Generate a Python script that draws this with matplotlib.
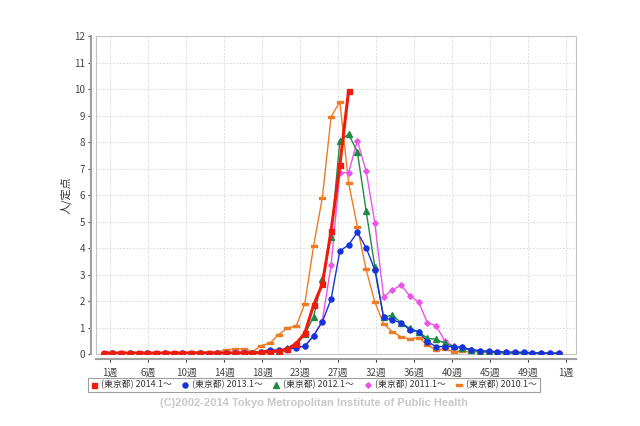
import matplotlib
matplotlib.use("Agg")
import matplotlib.pyplot as plt
from matplotlib.lines import Line2D
from matplotlib.patches import Rectangle

plt.rcParams['font.family'] = ['Noto Sans CJK JP', 'DejaVu Sans']

# weekly values (人/定点), index 0 = first week of each season
v2014 = [0.05, 0.04, 0.05, 0.04, 0.05, 0.04, 0.05, 0.04, 0.05, 0.04, 0.05, 0.04,
         0.05, 0.04, 0.05, 0.05, 0.06, 0.05,
         0.07, 0.1, 0.12, 0.2, 0.4, 0.8, 1.86, 2.65, 4.66, 7.13, 9.93]
v2013 = [0.03, 0.04, 0.03, 0.04, 0.03, 0.04, 0.03, 0.04, 0.03, 0.04, 0.03, 0.04,
         0.03, 0.04, 0.05, 0.05, 0.06, 0.06,
         0.1, 0.18, 0.15, 0.2, 0.25, 0.31, 0.7, 1.23, 2.08,
         3.9, 4.12, 4.6, 4.02, 3.18, 1.39, 1.29, 1.19, 0.92, 0.85, 0.48, 0.29, 0.29,
         0.29, 0.26, 0.18, 0.14, 0.12, 0.1, 0.09, 0.08, 0.07, 0.06, 0.05, 0.05, 0.04]
v2012 = [0.03, 0.03, 0.03, 0.03, 0.03, 0.03, 0.03, 0.03, 0.03, 0.03, 0.03, 0.03,
         0.03, 0.03, 0.04, 0.04, 0.05, 0.05, 0.06, 0.1,
         0.12, 0.25, 0.38, 0.75, 1.42, 2.83, 4.43,
         8.05, 8.3, 7.64, 5.41, 3.3, 1.39, 1.48, 1.19, 0.98, 0.85, 0.6, 0.57, 0.41,
         0.3, 0.22, 0.15, 0.1, 0.08, 0.06, 0.05, 0.04, 0.04, 0.03, 0.03, 0.03, 0.03]
v2011 = [0.04, 0.06, 0.05, 0.04, 0.05, 0.04, 0.05, 0.06, 0.04, 0.05, 0.04, 0.05,
         0.04, 0.05, 0.06, 0.07, 0.08, 0.06,
         0.08, 0.1, 0.12, 0.15, 0.27, 0.31, 0.7, 1.27, 3.37,
         6.85, 6.85, 8.05, 6.92, 4.96, 2.17, 2.42, 2.61, 2.2, 1.98, 1.19, 1.08, 0.51,
         0.29, 0.26, 0.18, 0.12, 0.1, 0.08, 0.07, 0.06, 0.06, 0.05, 0.05, 0.04, 0.04]
v2010 = [0.06, 0.05, 0.07, 0.05, 0.06, 0.05, 0.06, 0.07, 0.06, 0.05, 0.07, 0.08, 0.07,
         0.1, 0.16, 0.2, 0.2, 0.1,
         0.33, 0.42, 0.74, 1.0, 1.06, 1.91, 4.09, 5.91, 8.96, 9.52,
         6.47, 4.81, 3.2, 1.97, 1.15, 0.85, 0.66, 0.58, 0.63, 0.35, 0.16, 0.2,
         0.1, 0.12, 0.08, 0.1, 0.08, 0.07, 0.06, 0.08, 0.07, 0.06, 0.05, 0.05, 0.04]

labels = ['(東京都) 2014.1〜', '(東京都) 2013.1〜', '(東京都) 2012.1〜',
          '(東京都) 2011.1〜', '(東京都) 2010.1〜']
tick_labels = ['1週', '6週', '10週', '14週', '18週', '23週', '27週', '32週',
               '36週', '40週', '45週', '49週', '1週']

c_red = '#ee1c0e'
c_blue = '#1534dc'
c_green = '#1f8a46'
c_pink = '#ea55e6'
c_orange = '#ee7b25'
dash = [(-1, -0.42), (1, -0.42), (1, 0.42), (-1, 0.42), (-1, -0.42)]

fig = plt.figure(figsize=(6.4, 4.26), dpi=100)
ax = fig.add_axes([0.15, 0.1683, 0.75, 0.7472])

ax.plot(range(len(v2010)), v2010, color=c_orange, lw=1, marker=dash, ms=4.5, mec=c_orange)
ax.plot(range(len(v2011)), v2011, color=c_pink, lw=1, marker='D', ms=2.8)
ax.plot(range(len(v2012)), v2012, color=c_green, lw=1, marker='^', ms=3.8)
ax.plot(range(len(v2013)), v2013, color=c_blue, lw=1, marker='o', ms=3.6)
ax.plot(range(len(v2014)), v2014, color=c_red, lw=2.2, marker='s', ms=3.6)

ax.set_xlim(-0.88, 54.0)
ax.set_ylim(0, 12)
ax.set_yticks(range(0, 13))
ticks = [0.72 + k * 365 / 12 / 7 for k in range(13)]
ax.set_xticks(ticks)
ax.set_xticklabels(tick_labels)
ax.tick_params(labelsize=7, colors='#444444', length=2.5, width=0.8)
ax.tick_params(axis='y', pad=2)
ax.grid(True, color='#d4d4d4', lw=0.6, ls=(0, (2, 2)))
ax.set_axisbelow(True)

for s in ['top', 'right']:
    ax.spines[s].set_visible(False)
for s in ['left', 'bottom']:
    ax.spines[s].set_position(('outward', 3.5))
    ax.spines[s].set_color('#a0a0a0')
    ax.spines[s].set_linewidth(1.5)
ax.add_patch(Rectangle((0, 0), 1, 1, transform=ax.transAxes, fill=False,
                       ec='#c4c4c4', lw=0.8, clip_on=False))

ax.set_ylabel('人/定点', fontsize=8, color='#333333')
ax.yaxis.set_label_coords(-0.05, 0.5)

handles = [Line2D([], [], ls='none', marker='s', color=c_red, ms=3.6),
           Line2D([], [], ls='none', marker='o', color=c_blue, ms=3.6),
           Line2D([], [], ls='none', marker='^', color=c_green, ms=3.8),
           Line2D([], [], ls='none', marker='D', color=c_pink, ms=2.8),
           Line2D([], [], ls='none', marker=dash, color=c_orange, ms=4.5)]
leg = fig.legend(handles, labels, loc='center', bbox_to_anchor=(0.49, 0.096), ncol=5,
                 fontsize=6.4, frameon=True, fancybox=False, edgecolor='#888888',
                 handlelength=0.8, handletextpad=0.4, columnspacing=1.1,
                 borderpad=0.3, borderaxespad=0)
leg.get_frame().set_linewidth(0.8)
for t in leg.get_texts():
    t.set_color('#333333')

fig.text(0.49, 0.0547, '(C)2002-2014 Tokyo Metropolitan Institute of Public Health',
         ha='center', va='center', fontsize=8, weight='bold', color='#c8c8c8',
         family=['Liberation Sans', 'DejaVu Sans'])

fig.savefig('out.png', dpi=100)
